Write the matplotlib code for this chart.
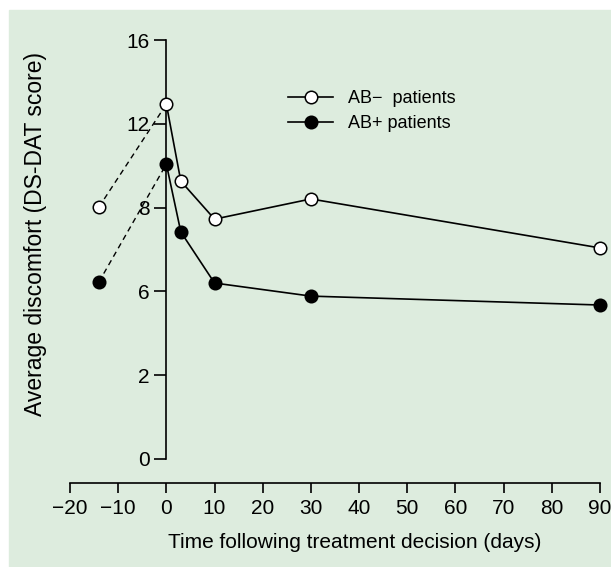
"""
Average discomfort (DS-DAT) before and after treatment decision.
"""

import matplotlib
matplotlib.use("Agg")
import matplotlib.pyplot as plt
from matplotlib.patches import Rectangle

#-------------------------------------------------------------------------------
# DATA
#-------------------------------------------------------------------------------

DAYS = [-14, 0, 3, 10, 30, 90]
AB_NEG = [9.62, 13.55, 10.61, 9.16, 9.93, 8.06]
AB_POS = [6.76, 11.26, 8.67, 6.72, 6.22, 5.88]

X_TICKS = [-20, -10, 0, 10, 20, 30, 40, 50, 60, 70, 80, 90]
# the printed axis has evenly spaced ticks with these labels
Y_TICKS = [0, 3.2, 6.4, 9.6, 12.8, 16]
Y_TICK_LABELS = ["0", "2", "6", "8", "12", "16"]

LABELS = ["AB\u2212  patients", "AB+ patients"]

BG = "#ddecde"
W, H = 611, 567

#-------------------------------------------------------------------------------
# MAIN
#-------------------------------------------------------------------------------

def main():
    plt.rcParams["font.family"] = ["Liberation Sans", "DejaVu Sans"]

    fig = plt.figure(figsize=(W / 100, H / 100), dpi=100, facecolor="white")
    # green panel with a thin white margin top/left
    fig.patches.append(Rectangle((9 / W, 0), 1, 1 - 10 / H,
                                 transform=fig.transFigure, color=BG,
                                 zorder=-10))

    ax = fig.add_axes([70 / W, (H - 459) / H, 530 / W, 419 / H])
    ax.set_facecolor("none")
    ax.set_xlim(-20, 90)
    ax.set_ylim(0, 16)

    # pre-decision segments dashed
    for vals in (AB_NEG, AB_POS):
        ax.plot(DAYS[:2], vals[:2], ls=(0, (4, 3)), color="black", lw=1.0,
                zorder=2)

    ax.plot(DAYS[1:], AB_NEG[1:], "-", color="black", lw=1.2, zorder=3)
    ax.plot(DAYS[1:], AB_POS[1:], "-", color="black", lw=1.2, zorder=3)
    ax.plot(DAYS, AB_NEG, "o", ms=9, mfc="white", mec="black", mew=1.1,
            ls="none", zorder=4, clip_on=False)
    ax.plot(DAYS, AB_POS, "o", ms=9, mfc="black", mec="black", mew=1.1,
            ls="none", zorder=4, clip_on=False)

    # legend handles
    h1, = ax.plot([], [], "-o", color="black", lw=1.2, ms=9, mfc="white",
                  mec="black", mew=1.1)
    h2, = ax.plot([], [], "-o", color="black", lw=1.2, ms=9, mfc="black",
                  mec="black", mew=1.1)
    ax.legend([h1, h2], LABELS, frameon=False, fontsize=13,
              loc="center left", handlelength=2.5, handletextpad=0.8,
              labelspacing=0.45,
              bbox_to_anchor=(272 / W, 1 - 111 / H),
              bbox_transform=fig.transFigure)

    # spines
    for s in ("top", "right"):
        ax.spines[s].set_visible(False)
    ax.spines["left"].set_position(("data", 0))
    ax.spines["left"].set_bounds(0, 16)
    ax.spines["bottom"].set_position(("outward", 17))
    ax.spines["bottom"].set_bounds(-20, 90)
    ax.spines["left"].set_linewidth(1.2)
    ax.spines["bottom"].set_linewidth(1.2)

    ax.set_xticks(X_TICKS)
    ax.set_yticks(Y_TICKS)
    ax.set_yticklabels(Y_TICK_LABELS)
    ax.tick_params(axis="y", direction="out", length=9, width=1.2,
                   labelsize=15, pad=3)
    ax.tick_params(axis="x", direction="out", length=7, width=1.2,
                   labelsize=15, pad=5)

    fig.text(36 / W, 1 - 234 / H, "Average discomfort (DS-DAT score)",
             rotation=90, ha="center", va="center", fontsize=16.5)
    fig.text(355 / W, 1 - 542 / H, "Time following treatment decision (days)",
             ha="center", va="center", fontsize=15)

    fig.savefig("out.png", dpi=100, facecolor="white")


if __name__ == '__main__':
    main()
